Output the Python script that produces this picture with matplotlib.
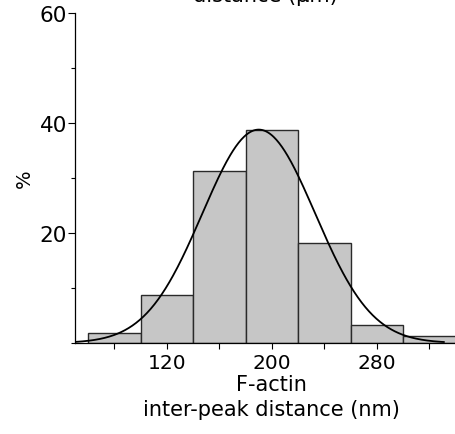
import matplotlib.pyplot as plt
import numpy as np

# histogram of F-actin inter-peak distances (percent per 40 nm bin)
bin_edges = [60, 100, 140, 180, 220, 260, 300, 340]
percent = [1.8, 8.8, 31.2, 38.8, 18.2, 3.3, 1.2]

# gaussian fit drawn over the bars
fit_mean = 190.0
fit_sd = 43.0
fit_peak = 38.8
fit_range = (50, 331)

plt.rcParams['font.family'] = 'DejaVu Sans'

fig = plt.figure(figsize=(4.56, 4.35), dpi=100)
ax = fig.add_axes([75 / 456, 91 / 435, 393.75 / 456, 330 / 435])

lefts = np.array(bin_edges[:-1])
widths = np.diff(bin_edges)
ax.bar(lefts, percent, width=widths, align='edge', color='#c6c6c6',
       edgecolor='#2a2a2a', linewidth=1.0, zorder=2)

xs = np.linspace(fit_range[0], fit_range[1], 400)
ys = fit_peak * np.exp(-0.5 * ((xs - fit_mean) / fit_sd) ** 2)
ax.plot(xs, ys, color='black', linewidth=1.3, zorder=3)

ax.set_xlim(50, 350)
ax.set_ylim(0, 60)

ax.set_xticks([120, 200, 280])
ax.set_xticks([80, 160, 240, 320], minor=True)
ax.set_yticks([20, 40, 60])
ax.set_yticks([0, 10, 30, 50], minor=True)

ax.tick_params(axis='x', which='both', length=4, width=0.8, pad=3, labelsize=14.5)
ax.tick_params(axis='y', which='major', length=4.7, width=0.8, pad=1, labelsize=15.5)
ax.tick_params(axis='y', which='minor', length=3, width=0.8)

for side in ['top', 'right']:
    ax.spines[side].set_visible(False)
for side in ['left', 'bottom']:
    ax.spines[side].set_linewidth(0.9)

ax.set_xlabel('F-actin\ninter-peak distance (nm)', fontsize=15, linespacing=1.3, labelpad=2)
ax.set_ylabel('%', fontsize=14, labelpad=4)

# axis title of the panel above, cut by the top edge
fig.text(265 / 456, 1 - 2 / 435, 'distance (µm)', ha='center', va='baseline', fontsize=15)

fig.savefig('out.png', dpi=100)
